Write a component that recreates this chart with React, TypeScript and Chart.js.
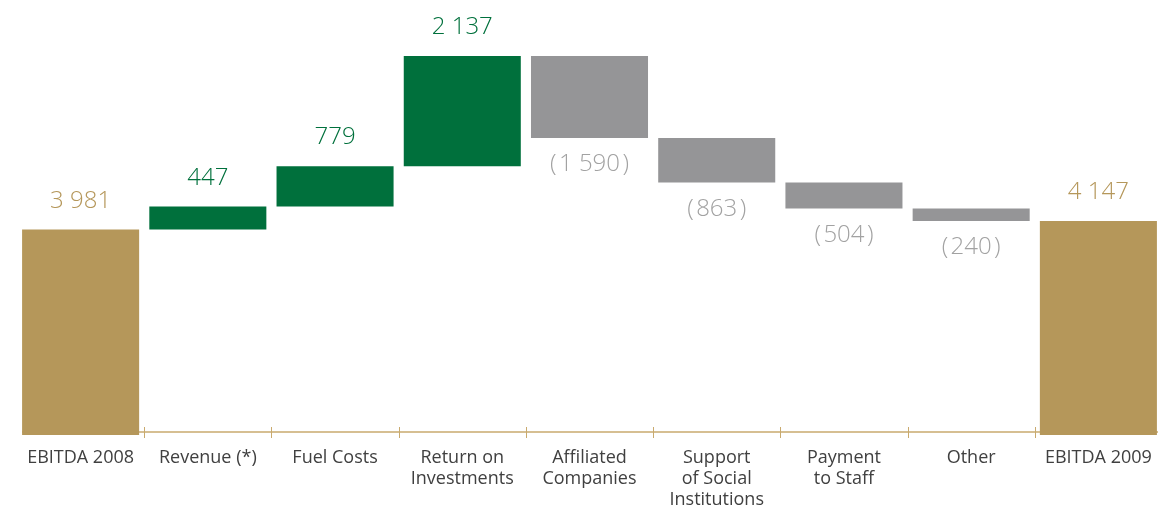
import React, { useEffect, useRef } from "react";
import { Chart, registerables } from "chart.js";

Chart.register(...registerables);

const categories: string[][] = [
  ["EBITDA 2008"],
  ["Revenue (*)"],
  ["Fuel Costs"],
  ["Return on", "Investments"],
  ["Affiliated", "Companies"],
  ["Support", "of Social", "Institutions"],
  ["Payment", "to Staff"],
  ["Other"],
  ["EBITDA 2009"],
];
const values: number[] = [3981, 447, 779, 2137, -1590, -863, -504, -240, 4147];
const kinds: string[] = ["total", "change", "change", "change", "change", "change", "change", "change", "total"];
const valueLabels: string[] = [
  "3 981",
  "447",
  "779",
  "2 137",
  "(\u200a1 590\u200a)",
  "(\u200a863\u200a)",
  "(\u200a504\u200a)",
  "(\u200a240\u200a)",
  "4 147",
];

const GOLD = "#b5975a";
const GREEN = "#00703c";
const GREY_BAR = "#959597";
const GREY_TEXT = "#a2a2a2";
const AXIS = "#c9aa6e";
const LABEL = "#404040";
const FONT = '"Open Sans", "Noto Sans", sans-serif';

function buildRanges(): [number, number][] {
  let running = 0;
  return values.map((v, i) => {
    if (kinds[i] === "total") {
      running = v;
      return [0, v] as [number, number];
    }
    const r: [number, number] = [running, running + v];
    running += v;
    return r;
  });
}

function colorFor(i: number): string {
  if (kinds[i] === "total") return GOLD;
  return values[i] >= 0 ? GREEN : GREY_BAR;
}

const waterfallPlugin = {
  id: "waterfallDecor",
  beforeDatasetsDraw(chart: any) {
    const ctx = chart.ctx;
    const x = chart.scales.x;
    const y = chart.scales.y;
    const meta = chart.getDatasetMeta(0);
    const y0 = y.getPixelForValue(0) - 3;
    const first = meta.data[0];
    const left = first.x - first.width / 2;
    const step = x.getPixelForValue(1) - x.getPixelForValue(0);
    ctx.save();
    ctx.strokeStyle = AXIS;
    ctx.lineWidth = 1.5;
    ctx.beginPath();
    ctx.moveTo(left, y0);
    ctx.lineTo(chart.width, y0);
    ctx.stroke();
    ctx.lineWidth = 1;
    for (let i = 1; i < categories.length; i++) {
      const bx = Math.round(x.getPixelForValue(i) - step / 2) + 0.5;
      ctx.beginPath();
      ctx.moveTo(bx, y0 - 5);
      ctx.lineTo(bx, y0 + 6);
      ctx.stroke();
    }
    ctx.restore();
  },
  afterDatasetsDraw(chart: any) {
    const ctx = chart.ctx;
    const x = chart.scales.x;
    const y = chart.scales.y;
    const meta = chart.getDatasetMeta(0);
    const base0 = y.getPixelForValue(0);
    ctx.save();
    ctx.textAlign = "center";
    ctx.textBaseline = "alphabetic";
    // value labels
    ctx.font = `300 24px ${FONT}`;
    meta.data.forEach((bar: any, i: number) => {
      const top = Math.min(bar.y, bar.base);
      const bottom = Math.max(bar.y, bar.base);
      if (kinds[i] === "total") {
        ctx.fillStyle = GOLD;
        ctx.fillText(valueLabels[i], bar.x, top - 22);
      } else if (values[i] >= 0) {
        ctx.fillStyle = GREEN;
        ctx.fillText(valueLabels[i], bar.x, top - 22);
      } else {
        ctx.fillStyle = GREY_TEXT;
        ctx.fillText(valueLabels[i], bar.x, bottom + 33);
      }
    });
    // category labels
    ctx.font = `400 18px ${FONT}`;
    ctx.fillStyle = LABEL;
    categories.forEach((lines, i) => {
      const cx = x.getPixelForValue(i);
      lines.forEach((line, k) => {
        ctx.fillText(line, cx, base0 + 27.5 + 21 * k);
      });
    });
    ctx.restore();
  },
};

export default function App() {
  const ref = useRef<HTMLCanvasElement | null>(null);
  useEffect(() => {
    if (!ref.current) return;
    const ranges = buildRanges();
    const chart = new Chart(ref.current, {
      type: "bar",
      data: {
        labels: categories.map((c) => c.join(" ")),
        datasets: [
          {
            data: ranges as any,
            backgroundColor: values.map((_, i) => colorFor(i)),
            borderWidth: 0,
            borderSkipped: false,
            barPercentage: 0.92,
            categoryPercentage: 1,
          },
        ],
      },
      options: {
        responsive: false,
        animation: false,
        devicePixelRatio: 1,
        layout: { padding: { left: 17, right: 8, top: 0, bottom: 70 } },
        plugins: { legend: { display: false }, tooltip: { enabled: false } },
        scales: {
          x: { display: false, offset: true },
          y: { display: false, min: 0, max: 8430 },
        },
      },
      plugins: [waterfallPlugin],
    });
    return () => chart.destroy();
  }, []);
  return (
    <div
      style={{
        position: "fixed",
        left: 0,
        top: 0,
        width: 1158,
        height: 505,
        overflow: "hidden",
        background: "#fff",
      }}
    >
      <canvas ref={ref} width={1170} height={505} style={{ display: "block" }} />
    </div>
  );
}
